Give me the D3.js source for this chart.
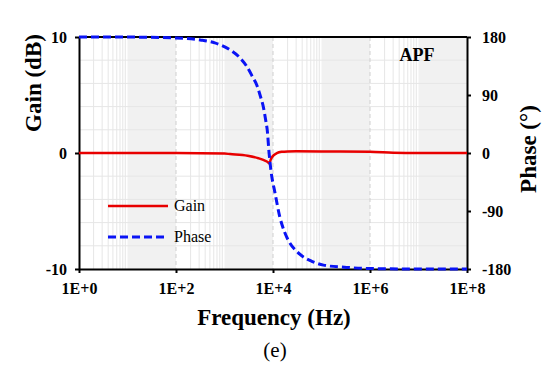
<!DOCTYPE html>
<html>
<head>
<meta charset="utf-8">
<script src="https://cdn.jsdelivr.net/npm/d3@7"></script>
<style>
  body { margin: 0; background: #fff; }
  svg { display: block; }
  text { font-family: "Liberation Serif", "Times New Roman", serif; }
</style>
</head>
<body>
<svg id="chart"></svg>
<script>
const xTicks = [1, 1e2, 1e4, 1e6, 1e8];
const xTickLabels = ["1E+0", "1E+2", "1E+4", "1E+6", "1E+8"];
const gainTicks = [-10, 0, 10];
const phaseTicks = [-180, -90, 0, 90, 180];

const gainFreq = [1, 10, 100, 1000, 1300, 3000, 5000, 6500, 8000, 8400, 9000, 10000, 12000, 15000, 20000, 30000, 1e5, 1e6, 3e6, 1e7, 1e8];
const gainDb = [0, 0, 0, -0.05, -0.09, -0.23, -0.45, -0.62, -0.82, -0.9, -0.55, -0.25, -0.02, 0.1, 0.14, 0.15, 0.14, 0.11, 0.03, 0, 0];

const phaseFreq = [1, 10, 100, 316, 631, 1300, 2000, 2900, 3800, 4600, 5500, 6300, 7100, 7600, 8300, 9100, 11000, 13800, 17400, 22400, 30200, 41700, 63100, 110000, 331000, 1e6, 1e7, 1e8];
const phaseDeg = [180, 179.9, 178.5, 175.5, 171, 160, 149, 134, 118, 106, 88, 72, 50, 36, 0, -28, -62, -99, -123, -140, -152, -161, -168, -174, -177.5, -179.3, -180, -180];

const width = 550;
const height = 375;
const margin = { top: 37, right: 83, bottom: 106, left: 79 };

const svg = d3.select("#chart").attr("width", width).attr("height", height);

const x = d3.scaleLog()
  .domain([1, 1e8])
  .range([margin.left, width - margin.right]);

const yGain = d3.scaleLinear()
  .domain([-10, 10])
  .range([height - margin.bottom, margin.top]);

const yPhase = d3.scaleLinear()
  .domain([-180, 180])
  .range([height - margin.bottom, margin.top]);

const [x0, x1] = x.range();
const [y0, y1] = yGain.range();

// shaded odd decades
const grid = svg.append("g");
[1, 3, 5, 7].forEach((d) => {
  grid.append("rect")
    .attr("x", x(Math.pow(10, d)))
    .attr("y", y1)
    .attr("width", x(Math.pow(10, d + 1)) - x(Math.pow(10, d)))
    .attr("height", y0 - y1)
    .attr("fill", "#f1f1f1");
});

// minor lines in the even decades
[0, 2, 4, 6].forEach((d) => {
  for (let k = 2; k <= 9; k++) {
    const xv = x(k * Math.pow(10, d));
    grid.append("line")
      .attr("x1", xv).attr("x2", xv)
      .attr("y1", y1).attr("y2", y0)
      .attr("stroke", "#e6e6e6")
      .attr("stroke-width", 1);
  }
});

// horizontal grid every 2 dB
d3.range(-8, 10, 2).forEach((v) => {
  grid.append("line")
    .attr("x1", x0).attr("x2", x1)
    .attr("y1", yGain(v)).attr("y2", yGain(v))
    .attr("stroke", "#e6e6e6")
    .attr("stroke-width", 1);
});

// dashed major lines
[1e2, 1e4, 1e6].forEach((v) => {
  grid.append("line")
    .attr("x1", x(v)).attr("x2", x(v))
    .attr("y1", y1).attr("y2", y0)
    .attr("stroke", "#cfcfcf")
    .attr("stroke-width", 1)
    .attr("stroke-dasharray", "4,3");
});

// axes
const fmt = (d) => String(d);

const xAxis = d3.axisBottom(x)
  .tickValues(xTicks)
  .tickFormat((d, i) => xTickLabels[i])
  .tickSize(4)
  .tickSizeOuter(0)
  .tickPadding(10);

const leftAxis = d3.axisLeft(yGain).tickValues(gainTicks).tickFormat(fmt).tickSize(4).tickSizeOuter(0).tickPadding(8);
const rightAxis = d3.axisRight(yPhase).tickValues(phaseTicks).tickFormat(fmt).tickSize(4).tickSizeOuter(0).tickPadding(11);

function styleAxis(g) {
  g.select(".domain").attr("stroke", "#000").attr("stroke-width", 2);
  g.selectAll(".tick line").attr("stroke", "#000").attr("stroke-width", 2);
  g.selectAll(".tick text")
    .attr("fill", "#000")
    .attr("font-weight", "bold")
    .attr("font-size", "16px");
}

svg.append("g").attr("transform", `translate(0, ${y0})`).call(xAxis).call(styleAxis);
svg.append("g").attr("transform", `translate(${x0}, 0)`).call(leftAxis).call(styleAxis);
svg.append("g").attr("transform", `translate(${x1}, 0)`).call(rightAxis).call(styleAxis);

svg.append("line")
  .attr("x1", x0).attr("x2", x1)
  .attr("y1", y1).attr("y2", y1)
  .attr("stroke", "#000")
  .attr("stroke-width", 2);

// curves
const gainLine = d3.line()
  .x((d, i) => x(gainFreq[i]))
  .y((d) => yGain(d))
  .curve(d3.curveMonotoneX);

const phaseLine = d3.line()
  .x((d, i) => x(phaseFreq[i]))
  .y((d) => yPhase(d))
  .curve(d3.curveMonotoneX);

svg.append("path")
  .attr("d", gainLine(gainDb))
  .attr("fill", "none")
  .attr("stroke", "#e80000")
  .attr("stroke-width", 2.5);

svg.append("path")
  .attr("d", phaseLine(phaseDeg))
  .attr("fill", "none")
  .attr("stroke", "#0a14f5")
  .attr("stroke-width", 3)
  .attr("stroke-dasharray", "8,4");

// legend
const legend = svg.append("g");
legend.append("line")
  .attr("x1", 108).attr("x2", 168)
  .attr("y1", 206).attr("y2", 206)
  .attr("stroke", "#e80000").attr("stroke-width", 2.5);
legend.append("text")
  .attr("x", 174).attr("y", 211)
  .attr("font-size", "16px")
  .text("Gain");
legend.append("line")
  .attr("x1", 108).attr("x2", 168)
  .attr("y1", 237).attr("y2", 237)
  .attr("stroke", "#0a14f5").attr("stroke-width", 3)
  .attr("stroke-dasharray", "8,4");
legend.append("text")
  .attr("x", 174).attr("y", 242)
  .attr("font-size", "16px")
  .text("Phase");

svg.append("text")
  .attr("x", 417).attr("y", 61)
  .attr("text-anchor", "middle")
  .attr("font-weight", "bold")
  .attr("font-size", "18px")
  .text("APF");

// titles
svg.append("text")
  .attr("transform", `translate(41, 83) rotate(-90)`)
  .attr("text-anchor", "middle")
  .attr("font-weight", "bold")
  .attr("font-size", "23px")
  .text("Gain (dB)");

svg.append("text")
  .attr("transform", `translate(536, 149) rotate(-90)`)
  .attr("text-anchor", "middle")
  .attr("font-weight", "bold")
  .attr("font-size", "23px")
  .text("Phase (°)");

svg.append("text")
  .attr("x", 274).attr("y", 325)
  .attr("text-anchor", "middle")
  .attr("font-weight", "bold")
  .attr("font-size", "23px")
  .text("Frequency (Hz)");

svg.append("text")
  .attr("x", 275).attr("y", 357)
  .attr("text-anchor", "middle")
  .attr("font-size", "21px")
  .text("(e)");
</script>
</body>
</html>
